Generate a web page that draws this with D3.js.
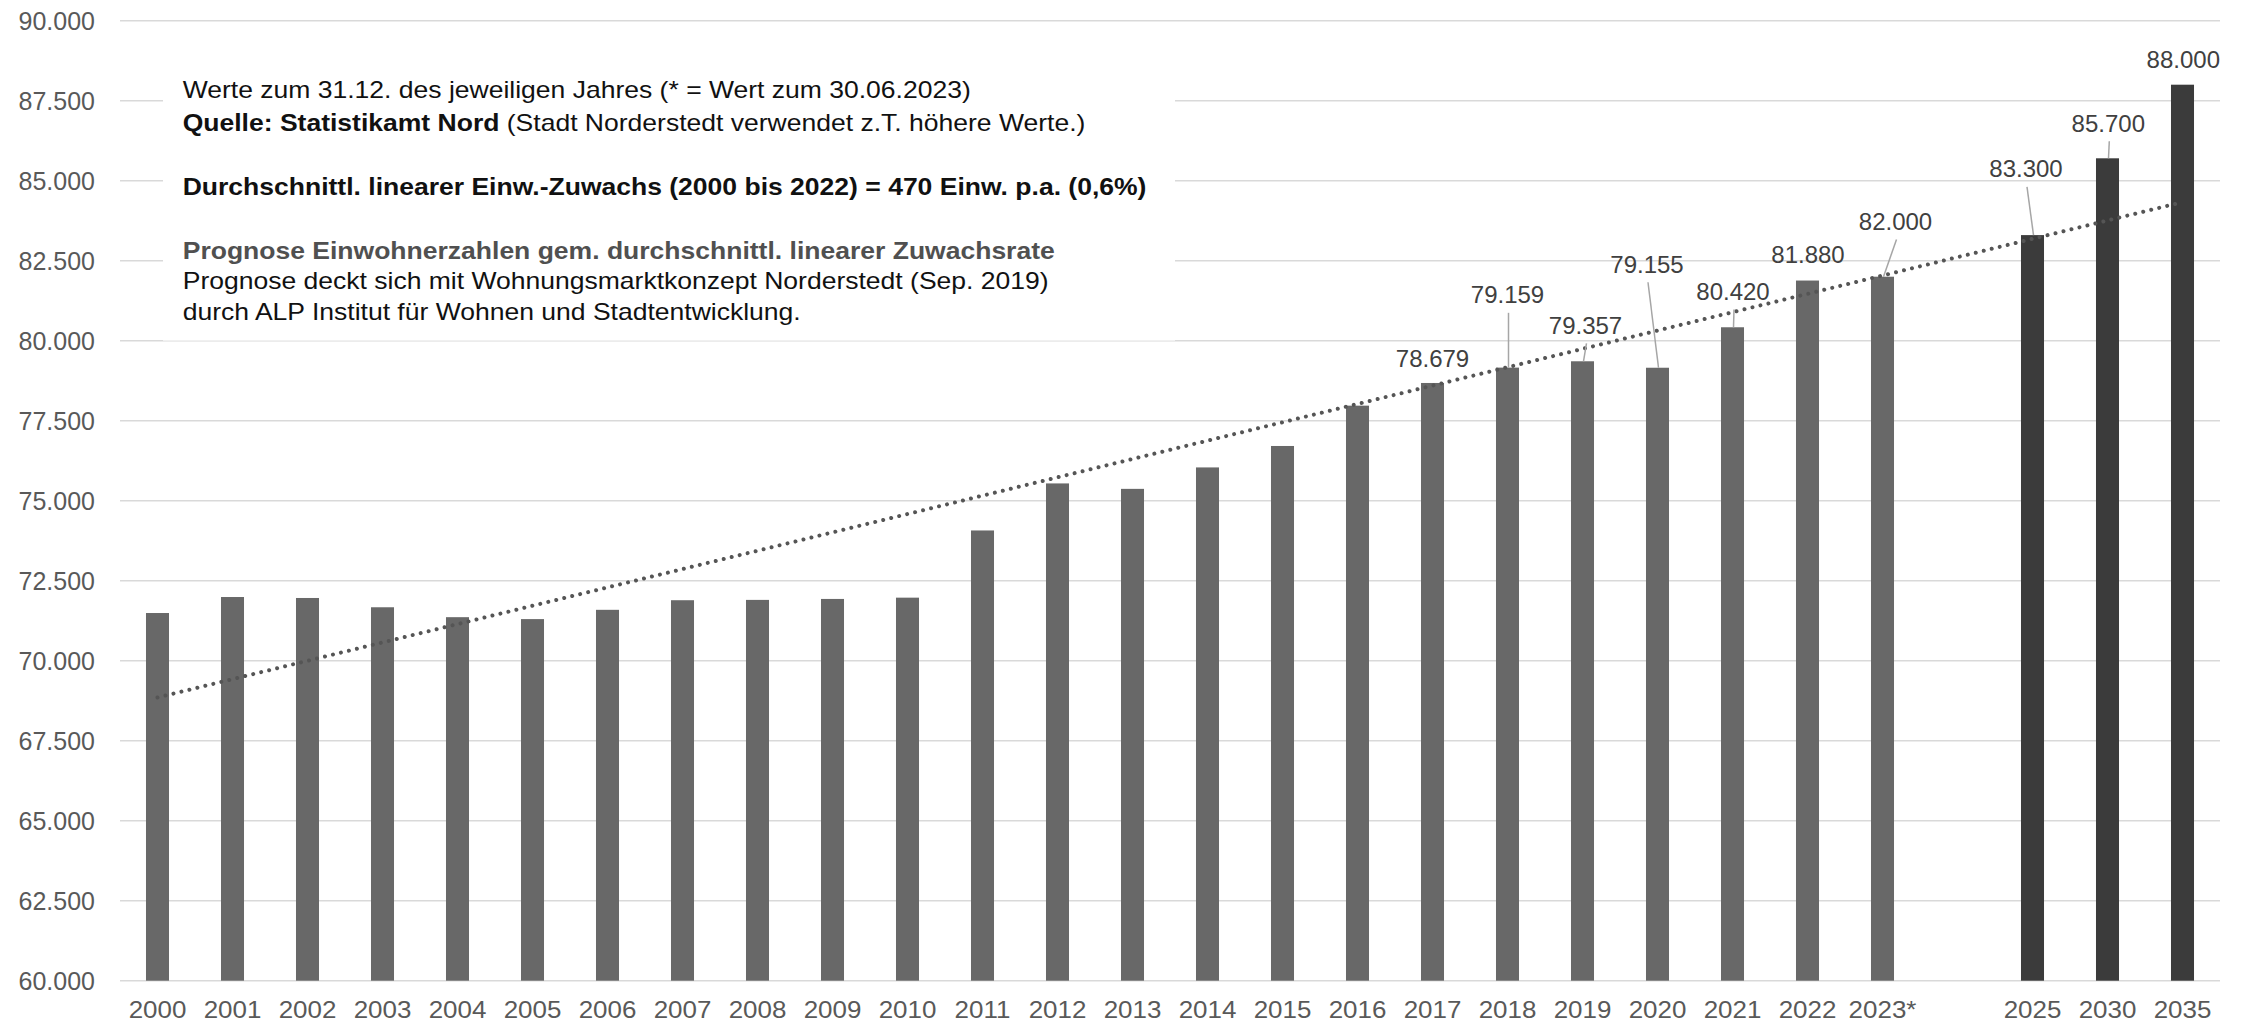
<!DOCTYPE html>
<html><head><meta charset="utf-8">
<script src="https://cdn.jsdelivr.net/npm/d3@7"></script>
<style>
body{margin:0;background:#fff}
svg{display:block}
text{font-family:"Liberation Sans",Arial,Helvetica,sans-serif}
</style>
</head><body>
<svg id="chart" width="2250" height="1024"></svg>
<script>
// ---------- data ----------
const categories = ["2000","2001","2002","2003","2004","2005","2006","2007","2008","2009","2010",
  "2011","2012","2013","2014","2015","2016","2017","2018","2019","2020","2021","2022","2023*","",
  "2025","2030","2035"];
const values = [71490,71990,71960,71670,71360,71300,71590,71890,71900,71930,71970,
  74070,75540,75370,76040,76710,77970,78679,79159,79357,79155,80420,81880,82000,null,
  83300,85700,88000];
const forecastCategories = ["2025","2030","2035"];
const labelledCategories = ["2017","2018","2019","2020","2021","2022","2023*","2025","2030","2035"];
const yTicks = [60000,62500,65000,67500,70000,72500,75000,77500,80000,82500,85000,87500,90000];
const trendStartValue = 68850;   // dotted linear trend at first category
const trendEndValue = 84330;     // dotted linear trend at last category
const noteLines = [
  [{t:"Werte zum 31.12. des jeweiligen Jahres (* = Wert zum 30.06.2023)", b:false, c:"#111"}],
  [{t:"Quelle: Statistikamt Nord", b:true, c:"#111"},{t:" (Stadt Norderstedt verwendet z.T. höhere Werte.)", b:false, c:"#111"}],
  [{t:"Durchschnittl. linearer Einw.-Zuwachs (2000 bis 2022) = 470 Einw. p.a. (0,6%)", b:true, c:"#111"}],
  [{t:"Prognose Einwohnerzahlen gem. durchschnittl. linearer Zuwachsrate", b:true, c:"#505050"}],
  [{t:"Prognose deckt sich mit Wohnungsmarktkonzept Norderstedt (Sep. 2019)", b:false, c:"#111"}],
  [{t:"durch ALP Institut für Wohnen und Stadtentwicklung.", b:false, c:"#111"}]
];

// ---------- layout ----------
const W = 2250, H = 1024;
const plot = {left:120, right:2220, top:20.7, bottom:980.7};
const noteBaselines = [98,131,195,259,289,320];
const labelLayout = { // [dx from bar centre, dy of baseline from bar top]
  "2017":[0,-16.3], "2018":[0,-64.3], "2019":[3,-27.3], "2020":[-10.5,-95],
  "2021":[0.5,-27.3], "2022":[0.5,-17.8], "2023*":[13,-46.7], "2025":[-6.5,-57.8],
  "2030":[0.8,-26.6], "2035":[0.8,-16.4]
};

const de = d3.formatLocale({decimal:",", thousands:".", grouping:[3], currency:["","€"]});
const fmt = de.format(",.0f");

const svg = d3.select("#chart");

const x = d3.scaleBand().domain(categories).range([plot.left, plot.right])
  .paddingInner(0.693).paddingOuter(0.3465);
const y = d3.scaleLinear().domain([60000, 90000]).range([plot.bottom, plot.top]);

// gridlines
svg.append("g").selectAll("line").data(yTicks).join("line")
  .attr("x1", plot.left).attr("x2", plot.right)
  .attr("y1", d => y(d)).attr("y2", d => y(d))
  .attr("stroke", "#d9d9d9").attr("stroke-width", 1.4);

// y axis labels
const yAxis = svg.append("g").attr("transform", `translate(${plot.left},0)`)
  .call(d3.axisLeft(y).tickValues(yTicks).tickFormat(fmt).tickSize(0).tickPadding(25));
yAxis.select(".domain").remove();
yAxis.selectAll("text").attr("font-size", 25).attr("fill", "#595959")
  .attr("font-family", '"Liberation Sans",Arial,sans-serif').attr("dy", "0.35em");

// x axis labels
const xAxis = svg.append("g").attr("transform", `translate(0,${plot.bottom})`)
  .call(d3.axisBottom(x).tickSize(0).tickPadding(0));
xAxis.select(".domain").remove();
xAxis.selectAll("text").attr("font-size", 24.5).attr("fill", "#595959")
  .attr("font-family", '"Liberation Sans",Arial,sans-serif')
  .attr("transform", "scale(1.06,1)")
  .attr("y", 37.5).attr("dy", 0);
xAxis.selectAll(".tick").each(function() {
  // keep the horizontal stretch centred on each tick
  const t = d3.select(this).select("text");
  const tr = d3.select(this).attr("transform");
  const tx = +tr.match(/translate\(([-\d.]+)/)[1];
  d3.select(this).attr("transform", `translate(${tx},0)`);
});

// white note box
svg.append("rect").attr("x", 163).attr("y", 50).attr("width", 1012).attr("height", 290.6)
  .attr("fill", "#fff");

// bars
const barData = categories.map((c, i) => ({c, v: values[i]})).filter(d => d.v != null);
svg.append("g").selectAll("rect").data(barData).join("rect")
  .attr("x", d => x(d.c)).attr("width", x.bandwidth())
  .attr("y", d => y(d.v)).attr("height", d => y(60000) - y(d.v))
  .attr("fill", d => forecastCategories.includes(d.c) ? "#3b3b3b" : "#686868");

// trend line
const cx = c => x(c) + x.bandwidth() / 2;
const trendPts = [[cx(categories[0]), y(trendStartValue)], [cx(categories[categories.length-1]), y(trendEndValue)]];
svg.append("path").attr("d", d3.line()(trendPts))
  .attr("fill", "none").attr("stroke", "#555").attr("stroke-width", 4)
  .attr("stroke-linecap", "round").attr("stroke-dasharray", "0.01 8.2");

// data labels + leaders
const lab = svg.append("g");
barData.filter(d => labelledCategories.includes(d.c)).forEach(d => {
  const [dx, dy] = labelLayout[d.c];
  const bx = cx(d.c), by = y(d.v);
  const lx = bx + dx, ly = by + dy;
  if (-dy - 9.5 > 12) {
    lab.append("line").attr("x1", lx + 1).attr("y1", ly + 9.5).attr("x2", bx + 1).attr("y2", by)
      .attr("stroke", "#a6a6a6").attr("stroke-width", 1.5);
  }
  lab.append("text").attr("x", lx).attr("y", ly).attr("text-anchor", "middle")
    .attr("font-size", 24).attr("fill", "#404040").text(fmt(d.v));
});

// note text
const notes = svg.append("g");
noteLines.forEach((segs, i) => {
  const t = notes.append("text")
    .attr("transform", `translate(182.7,${noteBaselines[i]}) scale(1.105,1)`)
    .attr("font-size", 24);
  segs.forEach(s => t.append("tspan").attr("font-weight", s.b ? "bold" : "normal")
    .attr("fill", s.c).text(s.t));
});
</script>
</body></html>
